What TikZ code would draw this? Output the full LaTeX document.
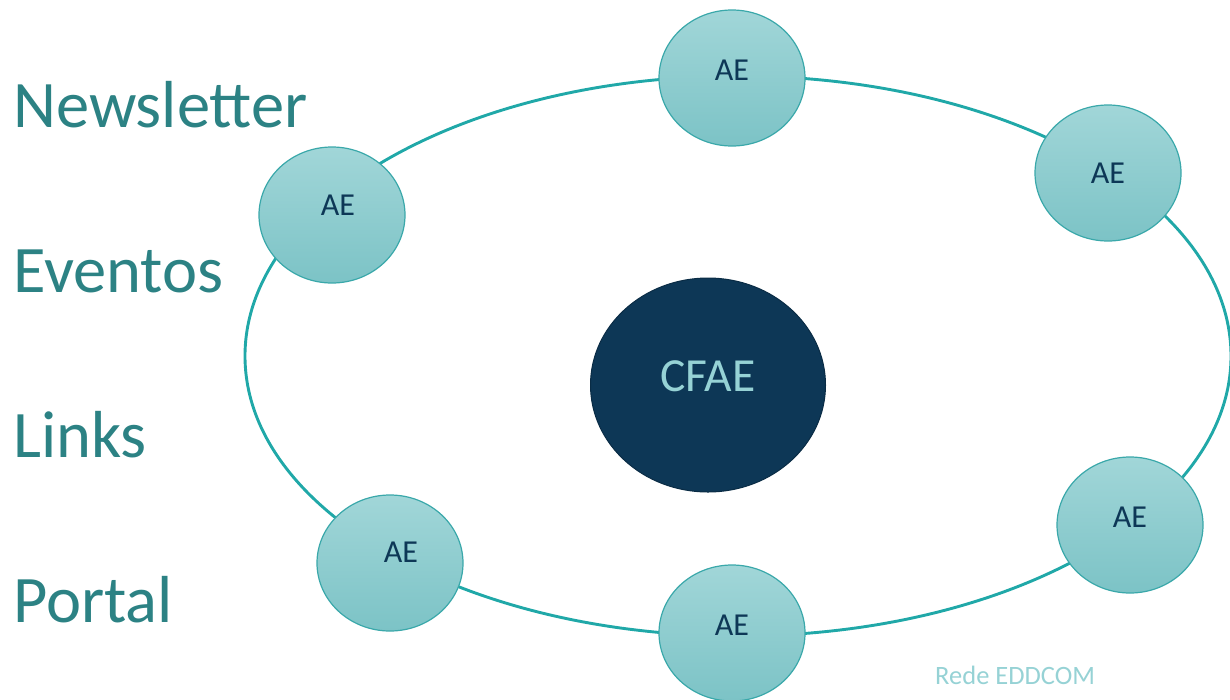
\documentclass[tikz,border=0pt]{standalone}
\usepackage{fontspec}
\setmainfont{Carlito}
\usetikzlibrary{shapes.geometric}

\definecolor{ringteal}{RGB}{32,168,168}
\definecolor{aetop}{RGB}{161,214,216}
\definecolor{aebottom}{RGB}{124,195,198}
\definecolor{aeborder}{RGB}{58,168,170}
\definecolor{navy}{RGB}{13,55,86}
\definecolor{menuteal}{RGB}{44,130,132}
\definecolor{paleteal}{RGB}{150,210,213}

\tikzstyle{ae}=[ellipse, draw=aeborder, line width=1.2pt, top color=aetop, bottom color=aebottom, minimum width=146pt, minimum height=136pt, inner sep=0pt]
\tikzstyle{aetext}=[text=navy, font=\fontsize{32}{38}\selectfont, inner sep=0pt]
\tikzstyle{menu}=[anchor=base west, inner sep=0pt, text=menuteal, font=\fontsize{66.5}{80}\selectfont]

\begin{document}
\begin{tikzpicture}[x=1pt, y=-1pt]
\useasboundingbox (0,0) rectangle (1230,699);

% ring
\node[ellipse, draw=ringteal, line width=2.9pt, minimum width=986pt, minimum height=560pt, inner sep=0pt] (ring) at (738,356) {};

% menu
\node[menu] (newsletter) at (13,127) {Newsletter};
\node[menu] (eventos) at (13,292) {Eventos};
\node[menu] (links) at (13,457) {Links};
\node[menu] (portal) at (13,622) {Portal};

% centre
\node[ellipse, draw=navy!80!black, line width=1pt, fill=navy, minimum width=235pt, minimum height=214pt, inner sep=0pt,
      label={[text=paleteal, font=\fontsize{47.5}{56}\selectfont, inner sep=0pt, yshift=9pt]center:CFAE}] (cfae) at (708,385) {};

% schools
\node[ae, label={[aetext, xshift=6pt, yshift=10pt]center:AE}] (ae1) at (332,215) {};
\node[ae, label={[aetext, yshift=8pt]center:AE}] (ae2) at (732,78) {};
\node[ae, label={[aetext]center:AE}] (ae3) at (1108,173) {};
\node[ae, label={[aetext, xshift=11pt, yshift=11pt]center:AE}] (ae4) at (390,563) {};
\node[ae, label={[aetext, yshift=8pt]center:AE}] (ae5) at (732,633) {};
\node[ae, label={[aetext, yshift=8pt]center:AE}] (ae6) at (1130,525) {};

\node[anchor=base west, inner sep=0pt, text=paleteal, font=\fontsize{26.5}{31}\selectfont] (rede) at (935,684) {Rede EDDCOM};
\end{tikzpicture}
\end{document}
